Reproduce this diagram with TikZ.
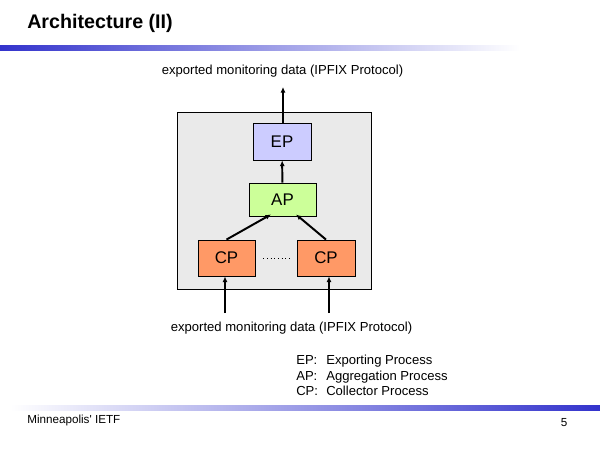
\documentclass[tikz,border=0pt]{standalone}
\usepackage{fontspec}
\setmainfont{Liberation Sans}
\usepackage{tikz}
\usetikzlibrary{arrows.meta,calc}

\definecolor{barblue}{HTML}{3333CC}
\definecolor{boxgray}{HTML}{EAEAEA}
\definecolor{epblue}{HTML}{CCCCFF}
\definecolor{apgreen}{HTML}{CCFF99}
\definecolor{cporange}{HTML}{FF9966}

\tikzset{
  proc/.style={draw=black, line width=0.6pt, inner sep=0pt, font=\fontsize{12}{14}\selectfont},
  flow/.style={-{Latex[length=4pt,width=3.6pt]}, line width=1.4pt},
  txt/.style={inner sep=0pt, font=\fontsize{9.3}{11}\selectfont}
}

\begin{document}
\begin{tikzpicture}[x=0.025cm,y=-0.025cm]
\useasboundingbox (0,0) rectangle (600,450);
\fill[white] (0,0) rectangle (600,450);
% title and bars
\node[anchor=base west, inner sep=0pt, font=\fontsize{14}{16}\selectfont\bfseries] (title) at (27,28) {Architecture (II)};
\shade[left color=barblue, right color=white] (0,45) rectangle (520,50);
\shade[left color=white, right color=barblue] (10,405) rectangle (600,410);
% processes
\draw[line width=0.6pt, fill=boxgray] (177,112) rectangle (371,289);
\node[proc, fill=epblue, minimum width=1.45cm, minimum height=0.925cm] (ep) at (282,141.5) {EP};
\node[proc, fill=apgreen, minimum width=1.675cm, minimum height=0.825cm] (ap) at (282.5,199.5) {AP};
\node[proc, fill=cporange, minimum width=1.425cm, minimum height=0.9cm] (cpa) at (226.5,258) {CP};
\node[proc, fill=cporange, minimum width=1.45cm, minimum height=0.9cm] (cpb) at (326,258) {CP};
\draw[dotted, line width=0.6pt, shorten <=0.2cm, shorten >=0.15cm] (cpa) -- (cpb);
% exported data
\node[txt] (outlabel) at (282.5,71) {exported monitoring data (IPFIX Protocol)};
\node[txt] (inlabel) at (291.5,328) {exported monitoring data (IPFIX Protocol)};
\coordinate (out) at (283,87);
\coordinate (ina) at (225,313);
\coordinate (inb) at (329,313);
\draw[flow] (ep.north -| out) -- (out);
\draw[flow] (ap) -- (ep);
\draw[flow] (cpa.north) -- ($(ap.south)+(-11.5,-2)$);
\draw[flow] (cpb.north) -- ($(ap.south)+(13.5,-2)$);
\draw[flow] (ina) -- (ina |- cpa.south);
\draw[flow] (inb) -- (inb |- cpb.south);
% legend
\foreach \y/\ab/\name in {364/EP/Exporting Process, 380/AP/Aggregation Process, 395/CP/Collector Process}{
  \node[txt, anchor=base west] (\ab key) at (296,\y) {\ab:};
  \node[txt, anchor=base west] (\ab name) at (326,\y) {\name};
}
% footer
\node[inner sep=0pt, anchor=west, font=\fontsize{8.3}{10}\selectfont] (place) at (27,420) {Minneapolis\textquotesingle{} IETF};
\node[inner sep=0pt, font=\fontsize{8.3}{10}\selectfont] (page) at (564,423) {5};
\end{tikzpicture}
\end{document}
